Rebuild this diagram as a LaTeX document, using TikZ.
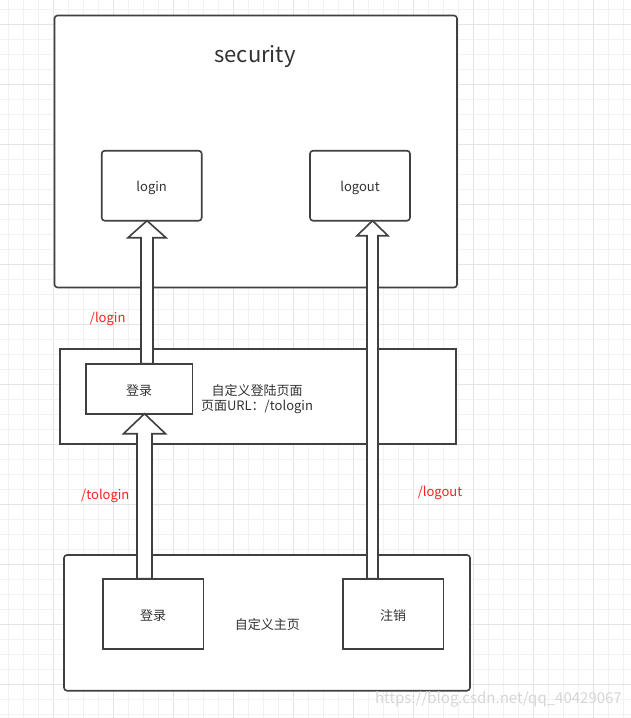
\documentclass[tikz,border=0pt]{standalone}
\usepackage{fontspec}
\setmainfont{Noto Sans CJK SC}
\usetikzlibrary{calc}
\definecolor{edgegray}{HTML}{404040}
\definecolor{textgray}{HTML}{333333}
\definecolor{gridminor}{HTML}{F2F2F2}
\definecolor{gridmajor}{HTML}{E4E4E4}
\definecolor{labelred}{HTML}{FF2020}
\tikzset{
	box/.style={draw=edgegray, fill=white, line width=1.6pt, inner sep=0pt, outer sep=0pt},
	roundbox/.style={box, rounded corners=3pt},
	flex/.style={draw=edgegray, fill=white, line width=1.6pt, line join=miter},
	txt/.style={text=textgray, font=\fontsize{13}{15}\selectfont, inner sep=0pt},
	redtxt/.style={text=labelred, font=\fontsize{13}{15}\selectfont, inner sep=0pt}
}
% lowered label inside a box
\def\boxlabel#1{\raisebox{-2pt}[\height][\depth]{#1}}
% block arrow, drawn upwards: (from)(to)(x:shaft:head:length)
\def\flexarrow(#1)(#2)(#3:#4:#5:#6){\draw[flex] let \p1=(#1), \p2=(#2) in
	(#3pt-#4pt,\y1) -- (#3pt-#4pt,\y2-#6pt) -- (#3pt-#5pt,\y2-#6pt) -- (#3pt,\y2)
	-- (#3pt+#5pt,\y2-#6pt) -- (#3pt+#4pt,\y2-#6pt) -- (#3pt+#4pt,\y1) -- cycle;}

\begin{document}
\begin{tikzpicture}[x=1pt, y=-1pt]
	%%%%% START %%%%%
	\useasboundingbox (0,0) rectangle (631,718);
	\fill[white] (0,0) rectangle (631,718);
	
	% grid
	\foreach \i in {0,...,41}{
		\pgfmathsetmacro{\gx}{8.3+15*\i}
		\pgfmathtruncatemacro{\gm}{mod(\i,4)}
		\ifnum\gm=3 \draw[gridmajor, line width=0.9pt] (\gx,0) -- (\gx,718);
		\else \draw[gridminor, line width=0.9pt] (\gx,0) -- (\gx,718); \fi
	}
	\foreach \i in {0,...,47}{
		\pgfmathsetmacro{\gy}{9.3+15*\i}
		\pgfmathtruncatemacro{\gm}{mod(\i,4)}
		\ifnum\gm=1 \draw[gridmajor, line width=0.9pt] (0,\gy) -- (631,\gy);
		\else \draw[gridminor, line width=0.9pt] (0,\gy) -- (631,\gy); \fi
	}
	
	% security
	\node[roundbox, minimum width=402.5pt, minimum height=272pt] (security) at (255.75,151.5) {};
	\node[txt, font=\fontsize{22}{26}\selectfont] (securitytitle) at (255,57) {security};
	\node[roundbox, minimum width=100pt, minimum height=70pt, txt] (login) at (151.7,185.7) {\boxlabel{login}};
	\node[roundbox, minimum width=100pt, minimum height=70pt, txt] (logout) at (360,185.7) {\boxlabel{logout}};
	
	% custom login page
	\node[box, minimum width=395.7pt, minimum height=95pt] (loginpage) at (257.85,396.5) {};
	\node[box, minimum width=106.6pt, minimum height=50pt, txt] (pagelogin) at (139,388.7) {\boxlabel{登录}};
	\node[txt, align=center] (loginpagetext) at (257,399) {自定义登陆页面\\页面URL：/tologin};
	
	% custom home page
	\node[roundbox, minimum width=406pt, minimum height=135.7pt] (home) at (267,622.85) {};
	\node[box, minimum width=100.6pt, minimum height=70.3pt, txt] (homelogin) at (153,613.85) {\boxlabel{登录}};
	\node[box, minimum width=100.6pt, minimum height=70.3pt, txt] (homelogout) at (393,613.85) {\boxlabel{注销}};
	\node[txt] (hometext) at (267.3,624.5) {自定义主页};
	
	% arrows
	\flexarrow(pagelogin.north)(login.south)(147:6:19:17)
	\flexarrow(homelogin.north)(pagelogin.south)(144.5:7.5:21:20)
	\flexarrow(homelogout.north)(logout.south)(372.5:5.5:15.5:15)
	
	\node[redtxt] (loginurl) at (107.7,319.3) {/login};
	\node[redtxt] (tologinurl) at (105.3,496.3) {/tologin};
	\node[redtxt] (logouturl) at (440,492.7) {/logout};
	
	\node[text=black!16, font=\fontsize{15}{18}\selectfont, inner sep=0pt, anchor=east] (watermark) at (622,699) {https://blog.csdn.net/qq\_40429067};
	%%%%% END %%%%%
\end{tikzpicture}
\end{document}
